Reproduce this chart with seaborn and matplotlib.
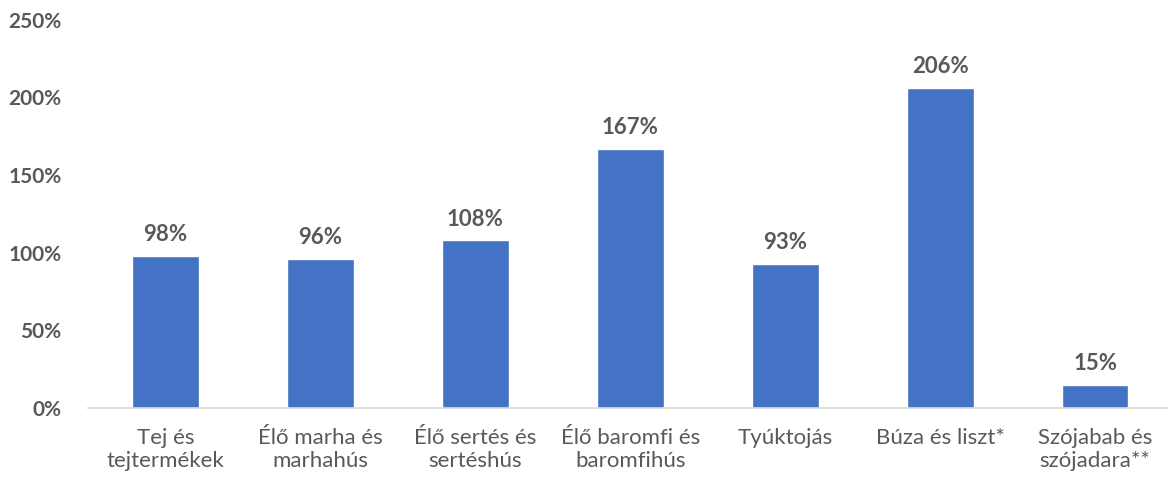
import matplotlib
matplotlib.use('Agg')
import matplotlib.pyplot as plt
import pandas as pd
import seaborn as sns
from matplotlib.ticker import PercentFormatter

# Data
categories = ['Tej és\ntejtermékek', 'Élő marha és\nmarhahús', 'Élő sertés és\nsertéshús',
              'Élő baromfi és\nbaromfihús', 'Tyúktojás', 'Búza és liszt*',
              'Szójabab és\nszójadara**']
values = [98, 96, 108, 167, 93, 206, 15]
y_ticks = [0, 50, 100, 150, 200, 250]

df = pd.DataFrame({'cat': categories, 'val': values})

sns.set_style('white')
plt.rcParams['font.family'] = ['Lato', 'DejaVu Sans']

text_color = '#595959'

fig = plt.figure(figsize=(11.68, 4.83), dpi=100)
ax = fig.add_axes([0.0753, 0.155, 0.9247, 0.804])

sns.barplot(data=df, x='cat', y='val', color='#4472C4', width=0.43,
            saturation=1, ax=ax)

for p, v in zip(ax.patches, values):
    ax.text(p.get_x() + p.get_width() / 2, v + 7, f'{v}%', ha='center',
            va='bottom', fontsize=16, fontweight='bold', color=text_color)

ax.set_ylim(0, 250)
ax.set_xlim(-0.5, 6.47)
ax.set_yticks(y_ticks)
ax.yaxis.set_major_formatter(PercentFormatter(decimals=0))
ax.set_xlabel('')
ax.set_ylabel('')
ax.tick_params(axis='y', labelsize=15, labelcolor=text_color, length=0, pad=19)
ax.tick_params(axis='x', labelsize=16, labelcolor=text_color, length=0, pad=14)
for lbl in ax.get_yticklabels():
    lbl.set_fontweight('bold')

for s in ['top', 'right', 'left']:
    ax.spines[s].set_visible(False)
ax.spines['bottom'].set_color('#D9D9D9')
ax.spines['bottom'].set_linewidth(1.2)

fig.savefig('out.png', dpi=100)
